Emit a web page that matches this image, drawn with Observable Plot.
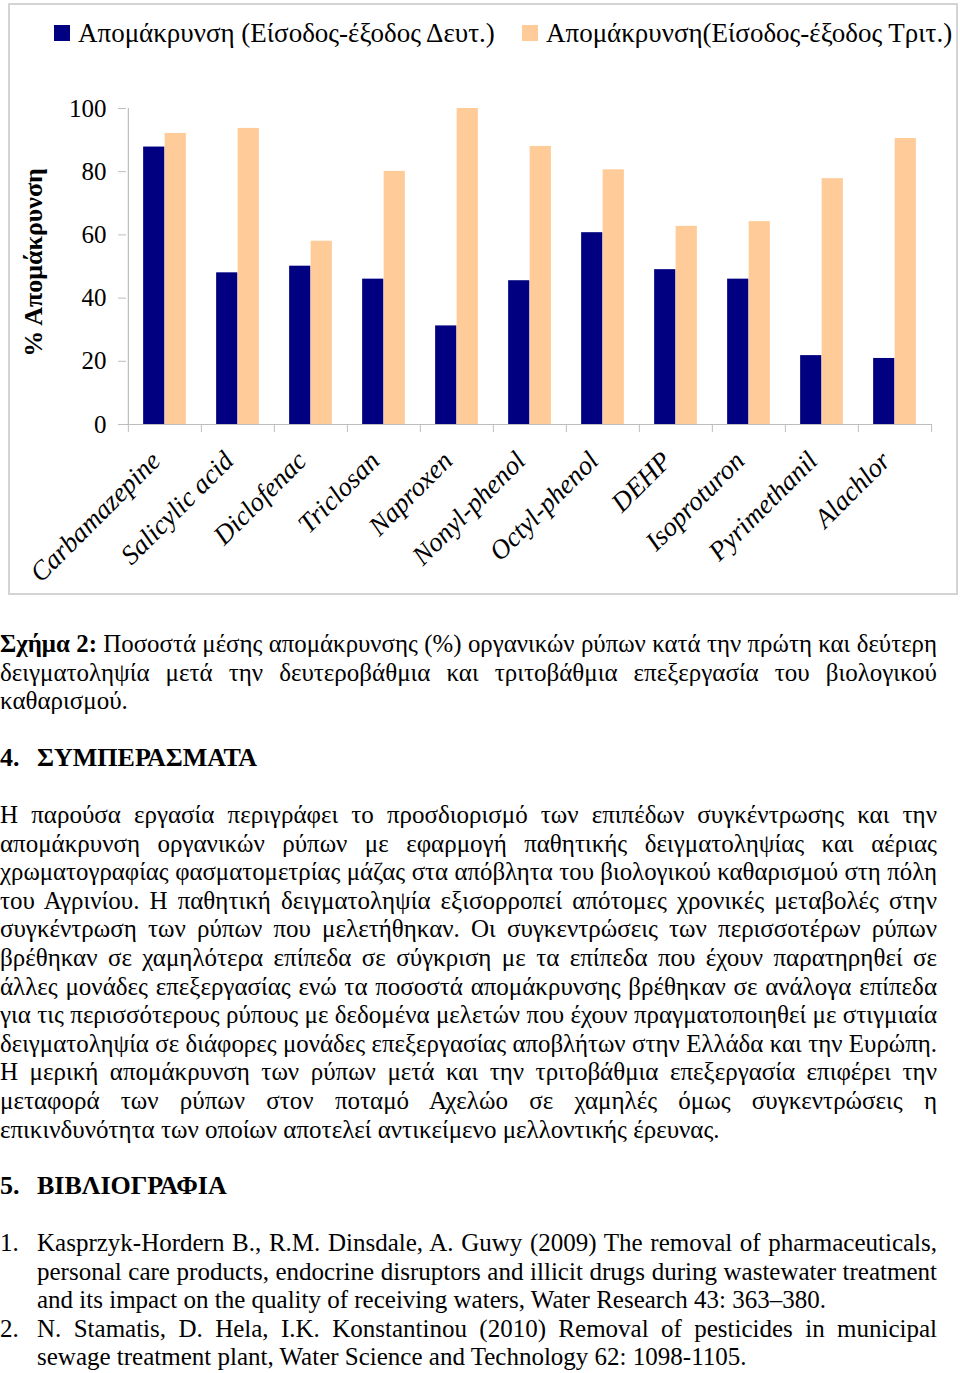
<!DOCTYPE html>
<html>
<head>
<meta charset="utf-8">
<script src="https://cdn.jsdelivr.net/npm/d3@7"></script>
<script src="https://cdn.jsdelivr.net/npm/@observablehq/plot@0.6"></script>
<style>
  html, body { margin: 0; padding: 0; background: #fff; }
  body { width: 960px; height: 1373px; position: relative; overflow: hidden; font-family: "Liberation Serif", "Times New Roman", serif; color: #000; }
  .box { position: absolute; left: 8px; top: 3px; width: 950px; height: 592px; border: 2px solid #d4d4d4; box-sizing: border-box; }
  .legend { position: absolute; top: 18px; left: 0; font-size: 27px; white-space: nowrap; }
  .legend .item { position: absolute; top: 0; white-space: nowrap; }
  .legend .sw { display: inline-block; width: 16px; height: 16px; vertical-align: 1px; margin-right: 8px; }
  #chart { position: absolute; left: 0; top: 60px; }
  .ln { position: absolute; white-space: nowrap; font-size: 25px; line-height: 28.6px; height: 28.6px; transform-origin: 0 0; }
  .j { text-align: justify; text-align-last: justify; }
  .b { font-weight: bold; font-size: 26px; }
</style>
</head>
<body>
<div class="box"></div>
<div class="legend" id="legend"></div>
<div id="chart"></div>
<div id="text"></div>
<script>
// ---- data ----
const categories = ["Carbamazepine", "Salicylic acid", "Diclofenac", "Triclosan", "Naproxen", "Nonyl-phenol", "Octyl-phenol", "DEHP", "Isoproturon", "Pyrimethanil", "Alachlor"];
const secondary = [87.8, 48.0, 50.1, 46.0, 31.2, 45.5, 60.7, 49.0, 46.0, 21.8, 20.9];
const tertiary  = [92.1, 93.7, 58.0, 80.1, 100.0, 88.0, 80.6, 62.7, 64.2, 77.8, 90.5];
const seriesNames = ["Απομάκρυνση (Είσοδος-έξοδος Δευτ.)", "Απομάκρυνση(Είσοδος-έξοδος Τριτ.)"];
const seriesColors = ["#000080", "#FFCC99"];
const yTicks = [0, 20, 40, 60, 80, 100];
const yTitle = "% Απομάκρυνση";

const captionLines = [
  ["<b>Σχήμα 2:</b> Ποσοστά μέσης απομάκρυνσης (%) οργανικών ρύπων κατά την πρώτη και δεύτερη", true],
  ["δειγματοληψία μετά την δευτεροβάθμια και τριτοβάθμια επεξεργασία του βιολογικού", true],
  ["καθαρισμού.", false]
];
const heading4 = ["4.", "ΣΥΜΠΕΡΑΣΜΑΤΑ"];
const paragraphLines = [
  "Η παρούσα εργασία περιγράφει το προσδιορισμό των επιπέδων συγκέντρωσης και την",
  "απομάκρυνση οργανικών ρύπων με εφαρμογή παθητικής δειγματοληψίας και αέριας",
  "χρωματογραφίας φασματομετρίας μάζας στα απόβλητα του βιολογικού καθαρισμού στη πόλη",
  "του Αγρινίου. Η παθητική δειγματοληψία εξισορροπεί απότομες χρονικές μεταβολές στην",
  "συγκέντρωση των ρύπων που μελετήθηκαν. Οι συγκεντρώσεις των περισσοτέρων ρύπων",
  "βρέθηκαν σε χαμηλότερα επίπεδα σε σύγκριση με τα επίπεδα που έχουν παρατηρηθεί σε",
  "άλλες μονάδες επεξεργασίας ενώ τα ποσοστά απομάκρυνσης βρέθηκαν σε ανάλογα επίπεδα",
  "για τις περισσότερους ρύπους με δεδομένα μελετών που έχουν πραγματοποιηθεί με στιγμιαία",
  "δειγματοληψία σε διάφορες μονάδες επεξεργασίας αποβλήτων στην Ελλάδα και την Ευρώπη.",
  "Η μερική απομάκρυνση των ρύπων μετά και την τριτοβάθμια επεξεργασία επιφέρει την",
  "μεταφορά των ρύπων στον ποταμό Αχελώο σε χαμηλές όμως συγκεντρώσεις η",
  "επικινδυνότητα των οποίων αποτελεί αντικείμενο μελλοντικής έρευνας."
];
const heading5 = ["5.", "ΒΙΒΛΙΟΓΡΑΦΙΑ"];
const references = [
  ["1.", [
    "Kasprzyk-Hordern B., R.M. Dinsdale, A. Guwy (2009) The removal of pharmaceuticals,",
    "personal care products, endocrine disruptors and illicit drugs during wastewater treatment",
    "and its impact on the quality of receiving waters, Water Research 43: 363–380."
  ]],
  ["2.", [
    "N. Stamatis, D. Hela, I.K. Konstantinou (2010) Removal of pesticides in municipal",
    "sewage treatment plant, Water Science and Technology 62: 1098-1105."
  ]]
];

// ---- legend ----
const legend = document.getElementById("legend");
const legendX = [54, 522];
seriesNames.forEach((name, i) => {
  const it = document.createElement("div");
  it.className = "item";
  it.style.left = legendX[i] + "px";
  it.innerHTML = `<span class="sw" style="background:${seriesColors[i]}"></span>${name}`;
  legend.appendChild(it);
});

// ---- chart ----
const rows = [];
categories.forEach((c, i) => {
  rows.push({category: c, series: seriesNames[0], value: secondary[i]});
  rows.push({category: c, series: seriesNames[1], value: tertiary[i]});
});
const W = 960, H = 535, ML = 126, MR = 28, MT = 48, MB = 171;
const step = (W - ML - MR) / categories.length;
const barW = 21.5;
const gray = "#bdbdbd";

const chart = Plot.plot({
  width: W, height: H,
  marginLeft: ML, marginRight: MR, marginTop: MT, marginBottom: MB,
  style: {fontFamily: "Liberation Serif, Times New Roman, serif", fontSize: "25px", color: "#000", background: "transparent", overflow: "visible"},
  x: {domain: categories, padding: 0, axis: null},
  y: {domain: [0, 100], axis: null},
  marks: [
    Plot.ruleY([0], {stroke: gray, strokeWidth: 1.2}),
    Plot.ruleX([categories[0]], {y1: 0, y2: 100, dx: -step / 2, stroke: gray, strokeWidth: 1.2}),
    Plot.axisY({ticks: yTicks, tickSize: 8, tickPadding: 12, stroke: gray, fontSize: 25, label: null}),
    Plot.axisX({ticks: categories, tickSize: 8, tickPadding: 0, dx: -step / 2, tickFormat: () => "", stroke: gray, label: null}),
    Plot.axisX({ticks: [categories[categories.length - 1]], tickSize: 8, dx: step / 2, tickFormat: () => "", stroke: gray, label: null}),
    Plot.barY(rows.filter(d => d.series === seriesNames[0]), {x: "category", y: "value", fill: seriesColors[0], insetLeft: step / 2 - barW, insetRight: step / 2}),
    Plot.barY(rows.filter(d => d.series === seriesNames[1]), {x: "category", y: "value", fill: seriesColors[1], insetLeft: step / 2, insetRight: step / 2 - barW}),
    Plot.text(categories, {x: d => d, frameAnchor: "bottom", text: d => d, rotate: -45, textAnchor: "end", dy: 38, dx: -3, fontStyle: "italic", fontSize: 27}),
    Plot.text([yTitle], {frameAnchor: "left", text: d => d, rotate: -90, textAnchor: "middle", dx: -93, dy: -4, fontWeight: "bold", fontSize: 26})
  ]
});
document.getElementById("chart").appendChild(chart);

// ---- text ----
const textRoot = document.getElementById("text");
function addLine(html, left, top, width, justify, bold) {
  const d = document.createElement("div");
  d.className = "ln" + (justify ? " j" : "") + (bold ? " b" : "");
  d.style.left = left + "px";
  d.style.top = top + "px";
  d.style.width = width + "px";
  d.innerHTML = html;
  textRoot.appendChild(d);
  if (justify) {
    // condense lines whose natural width exceeds the column
    const probe = document.createElement("span");
    probe.innerHTML = html;
    probe.style.cssText = "position:absolute;visibility:hidden;white-space:nowrap;font-size:25px;";
    textRoot.appendChild(probe);
    const natural = probe.getBoundingClientRect().width;
    textRoot.removeChild(probe);
    if (natural > width - 2) {
      const s = (width - 2) / natural;
      d.style.width = (width / s) + "px";
      d.style.transform = `scaleX(${s})`;
    }
  }
}
const LH = 28.6;
captionLines.forEach(([t, j], i) => addLine(t, 0, 630 + i * LH, 937, j, false));
addLine(heading4[0], 0, 744, 40, false, true);
addLine(heading4[1], 37, 744, 600, false, true);
paragraphLines.forEach((t, i) => addLine(t, 0, 801 + i * LH, 937, i < paragraphLines.length - 1, false));
addLine(heading5[0], 0, 1172, 40, false, true);
addLine(heading5[1], 37, 1172, 600, false, true);
let rtop = 1229;
references.forEach(([num, lines]) => {
  addLine(num, 0, rtop, 40, false, false);
  lines.forEach((t, i) => { addLine(t, 37, rtop, 900, i < lines.length - 1, false); rtop += LH; });
});
</script>
</body>
</html>
